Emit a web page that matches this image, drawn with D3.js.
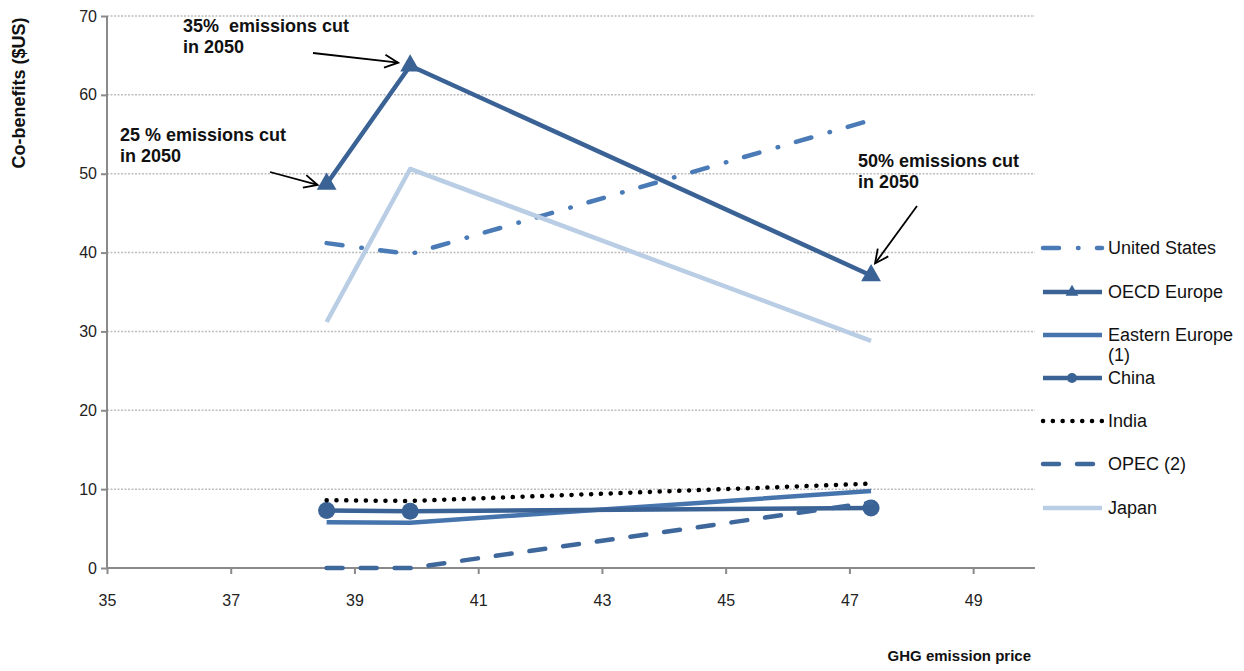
<!DOCTYPE html>
<html><head><meta charset="utf-8">
<script src="https://cdn.jsdelivr.net/npm/d3@7"></script>
<style>body{margin:0;background:#fff;} svg{display:block;font-family:"Liberation Sans",Arial,sans-serif;} text{white-space:pre;}</style>
</head><body>
<svg id="chart" width="1244" height="671"></svg>
<script>
const prices = [38.55, 39.9, 47.35];
const unitedStates = [41.2, 39.8, 56.8];
const oecdEurope = [48.7, 63.7, 37.1];
const easternEurope = [5.8, 5.75, 9.75];
const china = [7.3, 7.2, 7.6];
const india = [8.6, 8.5, 10.7];
const opec = [0, 0, 8.3];
const japan = [31.2, 50.6, 28.8];
const xTicks = [35, 37, 39, 41, 43, 45, 47, 49];
const yTicks = [0, 10, 20, 30, 40, 50, 60, 70];
const seriesNames = ["United States", "OECD Europe", "Eastern Europe (1)", "China", "India", "OPEC (2)", "Japan"];
const annotations = [
  {lines: ["35%  emissions cut", "in 2050"], idx: 1},
  {lines: ["25 % emissions cut", "in 2050"], idx: 0},
  {lines: ["50% emissions cut", "in 2050"], idx: 2}
];

const svg = d3.select("#chart");
const x = d3.scaleLinear().domain([35, 50]).range([107, 1035]);
const y = d3.scaleLinear().domain([0, 70]).range([568, 16]);

// gridlines
svg.append("g").selectAll("line").data(yTicks.filter(d => d > 0)).join("line")
  .attr("x1", x(35)).attr("x2", x(50)).attr("y1", d => y(d)).attr("y2", d => y(d))
  .attr("stroke", "#bdbdbd").attr("stroke-width", 1.5).attr("stroke-dasharray", "2,1.5");

// axes
const yAxis = svg.append("g").attr("transform", `translate(${x(35)},0)`)
  .call(d3.axisLeft(y).tickValues(yTicks).tickSize(6).tickPadding(4).tickFormat(d3.format("d")));
const xAxis = svg.append("g").attr("transform", `translate(0,${y(0)})`)
  .call(d3.axisBottom(x).tickValues(xTicks).tickSize(6).tickPadding(21).tickFormat(d3.format("d")));
[xAxis, yAxis].forEach(a => {
  a.select(".domain").attr("stroke", "#8a8a8a").attr("stroke-width", 2);
  a.selectAll(".tick line").attr("stroke", "#8a8a8a").attr("stroke-width", 2);
  a.selectAll(".tick text").attr("fill", "#222").style("font-size", "16px").style("font-family", "Liberation Sans, Arial, sans-serif");
});
xAxis.select(".domain").attr("d", `M${x(35)},0H${x(50)}`);
yAxis.select(".domain").attr("d", `M0,${y(0)}V${y(70)}`);

const styles = [
  {data: unitedStates, color: "#4A7BB7", dash: "16,19,0.5,18.5", width: 4.5},
  {data: oecdEurope, color: "#3A6295", dash: null, width: 4.5, marker: "tri"},
  {data: easternEurope, color: "#4674AD", dash: null, width: 4.5},
  {data: china, color: "#3A6295", dash: null, width: 4.5, marker: "circle"},
  {data: india, color: "#000", dash: "0.1,9.7", width: 4.5},
  {data: opec, color: "#3E679C", dash: "16,18", width: 4.5},
  {data: japan, color: "#B9CDE5", dash: null, width: 4.5}
];

const line = d3.line().x((d, i) => x(prices[i])).y(d => y(d));
const tri = d3.symbol().type(d3.symbolTriangle);

styles.forEach(s => {
  svg.append("path").datum(s.data).attr("d", line).attr("fill", "none")
    .attr("stroke", s.color).attr("stroke-width", s.width)
    .attr("stroke-linecap", s.dash ? "round" : "butt").attr("stroke-linejoin", "round")
    .attr("stroke-dasharray", s.dash);
  if (s.marker === "tri") {
    svg.append("g").selectAll("path").data(s.data).join("path")
      .attr("d", tri.size(170)).attr("fill", s.color)
      .attr("transform", (d, i) => `translate(${x(prices[i])},${y(d)})`);
  } else if (s.marker === "circle") {
    svg.append("g").selectAll("circle").data(s.data).join("circle")
      .attr("cx", (d, i) => x(prices[i])).attr("cy", d => y(d)).attr("r", 8.5).attr("fill", s.color);
  }
});

// legend
const legY = [248, 292, 335, 378, 421, 464, 508];
const leg = svg.append("g");
styles.forEach((s, i) => {
  const ly = legY[i];
  leg.append("line").attr("x1", 1043).attr("x2", 1102).attr("y1", ly).attr("y2", ly)
    .attr("stroke", s.color).attr("stroke-width", s.width)
    .attr("stroke-linecap", s.dash ? "round" : "butt").attr("stroke-dasharray", s.dash);
  if (s.marker === "tri") {
    leg.append("path").attr("d", tri.size(70)).attr("fill", s.color).attr("transform", `translate(1072,${ly})`);
  } else if (s.marker === "circle") {
    leg.append("circle").attr("cx", 1072).attr("cy", ly).attr("r", 5).attr("fill", s.color);
  }
  const name = seriesNames[i];
  const t = leg.append("text").attr("x", 1108).attr("y", ly + 6).attr("fill", "#111").style("font-size", "18px");
  if (name === "Eastern Europe (1)") {
    t.append("tspan").attr("x", 1108).text("Eastern Europe");
    t.append("tspan").attr("x", 1108).attr("dy", 20).text("(1)");
  } else t.text(name);
});

// axis titles
svg.append("text").attr("transform", "translate(25,93) rotate(-90)").attr("text-anchor", "middle")
  .style("font-size", "18px").style("font-weight", "bold").attr("fill", "#111").text("Co-benefits ($US)");
svg.append("text").attr("x", 1031).attr("y", 661).attr("text-anchor", "end")
  .style("font-size", "15px").style("font-weight", "bold").attr("fill", "#111").text("GHG emission price");

// annotations
const annPos = [[183, 32], [120, 141], [858, 167]];
annotations.forEach((a, k) => {
  const t = svg.append("text").attr("x", annPos[k][0]).attr("y", annPos[k][1])
    .style("font-size", "18px").style("font-weight", "bold").attr("fill", "#111");
  a.lines.forEach((l, j) => t.append("tspan").attr("x", annPos[k][0]).attr("dy", j ? 21 : 0).text(l));
});

// arrows
const arrows = [
  {from: [313, 53], idx: 1, to: [-12, -3]},
  {from: [270, 172], idx: 0, to: [-9, 1]},
  {from: [917, 206], idx: 2, to: [4, -12]}
];
arrows.forEach(a => {
  const ex = x(prices[a.idx]) + a.to[0];
  const ey = y(oecdEurope[a.idx]) + a.to[1];
  const ang = Math.atan2(ey - a.from[1], ex - a.from[0]);
  const L = 15, sp = 0.45;
  svg.append("line").attr("x1", a.from[0]).attr("y1", a.from[1]).attr("x2", ex).attr("y2", ey)
    .attr("stroke", "#000").attr("stroke-width", 1.8);
  svg.append("path")
    .attr("d", `M${ex - L * Math.cos(ang - sp)},${ey - L * Math.sin(ang - sp)}L${ex},${ey}L${ex - L * Math.cos(ang + sp)},${ey - L * Math.sin(ang + sp)}`)
    .attr("fill", "none").attr("stroke", "#000").attr("stroke-width", 1.8);
});
</script>
</body></html>
